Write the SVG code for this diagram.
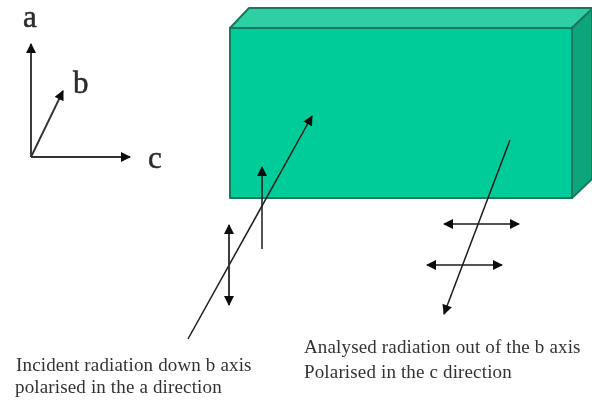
<svg xmlns="http://www.w3.org/2000/svg" width="592" height="400" viewBox="0 0 592 400">
<style>
.c{stroke:#1c1c1c;stroke-width:1.5;fill:none}
.x{stroke:#333;stroke-width:1.9;fill:none}
.t{font-family:"Liberation Serif",serif;font-size:19px;letter-spacing:.15px;fill:#333}
.l{font-family:"Liberation Serif",serif;font-size:31px;fill:#2a2a2a;stroke:#2a2a2a;stroke-width:.5}
.b{stroke:#17795e;stroke-width:2;stroke-linejoin:round}
</style>
<defs>
<marker id="a" viewBox="0 0 10 10" refX="9" refY="5" markerWidth="11" markerHeight="10" markerUnits="userSpaceOnUse" orient="auto-start-reverse"><path d="M0 0L10 5L0 10z" fill="#111"/></marker>
<filter id="s" x="-5%" y="-5%" width="110%" height="110%"><feGaussianBlur stdDeviation="0.45"/></filter>
</defs>
<rect width="592" height="400" fill="#fff"/>
<g filter="url(#s)">
<g id="box">
<path class="b" d="M230 28L249 8H592V9L572 28z" fill="#2ecfa2"/>
<path class="b" d="M572 28L592 9V179L572 198z" fill="#0aa57c"/>
<rect class="b" x="230" y="28" width="342" height="170" fill="#00cc99"/>
</g>
<g id="connectors">
<path class="x" d="M31 157V44" marker-end="url(#a)"/>
<path class="x" d="M31 157L63 91" marker-end="url(#a)"/>
<path class="x" d="M31 157H130" marker-end="url(#a)"/>
<path class="c" d="M188 339L312 116" marker-end="url(#a)"/>
<path class="c" d="M262 249V167" marker-end="url(#a)"/>
<path class="x" d="M229 225V305" marker-start="url(#a)" marker-end="url(#a)"/>
<path class="c" d="M510 140L444 314" marker-end="url(#a)"/>
<path class="c" d="M444 224H519" marker-start="url(#a)" marker-end="url(#a)"/>
<path class="c" d="M427 265H502" marker-start="url(#a)" marker-end="url(#a)"/>
</g>
<g id="axis-labels">
<text class="l" x="23" y="27">a</text>
<text class="l" x="73" y="93">b</text>
<text class="l" x="148" y="168">c</text>
</g>
<g id="incident-label">
<text class="t" x="16" y="371">Incident radiation down b axis</text>
<text class="t" x="15" y="393">polarised in the a direction</text>
</g>
<g id="analysed-label">
<text class="t" x="304" y="353">Analysed radiation out of the b axis</text>
<text class="t" x="304" y="378">Polarised in the c direction</text>
</g>
</g>
</svg>
